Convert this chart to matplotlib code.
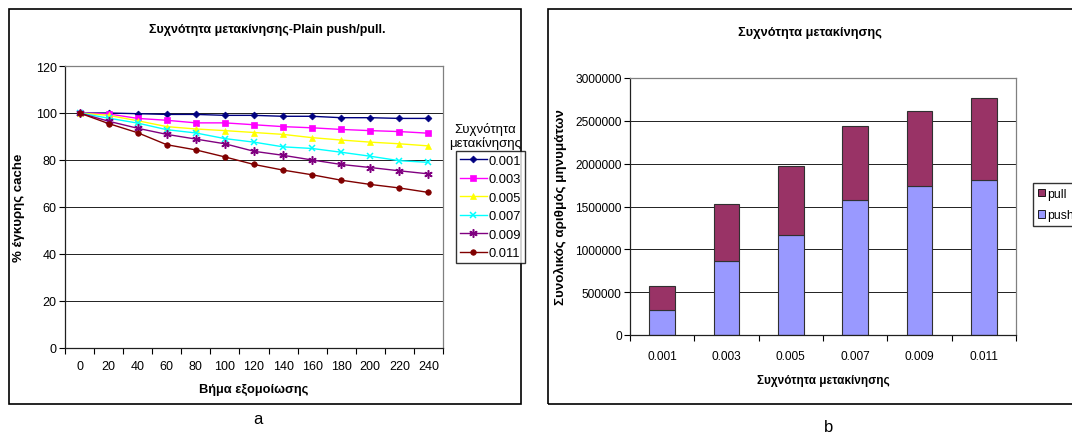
import numpy as np
import matplotlib.pyplot as plt
from matplotlib.patches import Rectangle, Patch

plt.rcParams['font.family'] = ['Liberation Sans', 'DejaVu Sans']

# left chart: % valid cache per simulation step for each migration frequency
steps = [0, 20, 40, 60, 80, 100, 120, 140, 160, 180, 200, 220, 240]
freq_labels = ['0.001', '0.003', '0.005', '0.007', '0.009', '0.011']
valid_001 = [100, 100, 99.7, 99.4, 99.4, 99.0, 99.0, 98.6, 98.6, 98.0, 98.0, 97.7, 97.7]
valid_003 = [100, 99.6, 97.7, 96.9, 95.8, 95.8, 95.0, 94.2, 93.7, 93.0, 92.5, 92.1, 91.4]
valid_005 = [100, 99.0, 96.7, 94.2, 93.2, 92.5, 91.7, 90.9, 89.5, 88.5, 87.6, 86.9, 86.0]
valid_007 = [100, 97.8, 95.7, 92.9, 91.5, 89.1, 87.6, 85.6, 84.9, 83.3, 81.6, 79.7, 79.0]
valid_009 = [100, 96.5, 93.5, 90.9, 88.9, 86.9, 83.7, 82.0, 80.0, 78.1, 76.8, 75.4, 74.1]
valid_011 = [100, 95.5, 91.6, 86.5, 84.3, 81.3, 78.1, 75.7, 73.7, 71.4, 69.6, 68.1, 66.2]

# right chart: total messages (push + pull) per migration frequency
push_msgs = [291000, 859000, 1170000, 1578000, 1737000, 1811000]
pull_msgs = [276000, 672000, 797000, 867000, 883000, 952000]

fig = plt.figure(figsize=(10.72, 4.35), dpi=100)
W, H = 1072.0, 435.0

def box(x0, y0, x1, y1):
    return [x0 / W, 1 - y1 / H, (x1 - x0) / W, (y1 - y0) / H]

def ftext(x, y, s, **kw):
    return fig.text(x / W, 1 - y / H, s, ha='center', va='center', **kw)

# panel frames
fig.patches.append(Rectangle((9 / W, 1 - 405 / H), 512 / W, 395 / H, transform=fig.transFigure,
                             fill=False, ec='black', lw=1.2))
fig.patches.append(Rectangle((548 / W, 1 - 405 / H), 540 / W, 395 / H, transform=fig.transFigure,
                             fill=False, ec='black', lw=1.2))

def style_axes(ax, tsize, xpad):
    for s in ['top', 'right']:
        ax.spines[s].set_color('#808080')
    for s in ['left', 'bottom']:
        ax.spines[s].set_color('#202020')
    for s in ax.spines.values():
        s.set_linewidth(0.9)
    ax.grid(axis='y', color='#202020', lw=0.7)
    ax.set_axisbelow(True)
    ax.tick_params(axis='y', direction='out', length=4, width=0.8, labelsize=tsize, pad=2)
    ax.tick_params(axis='x', which='major', length=0, labelsize=tsize, pad=xpad)
    ax.tick_params(axis='x', which='minor', direction='out', length=4, width=0.8)

# ---- a ----
ax1 = fig.add_axes(box(65, 67, 443, 349))
series = [valid_001, valid_003, valid_005, valid_007, valid_009, valid_011]
colors = ['#000080', '#FF00FF', '#FFFF00', '#00FFFF', '#800080', '#800000']
markers = ['D', 's', '^', 'x', (6, 2, 0), 'o']
msizes = [3.5, 4, 4.5, 5, 6, 4]
handles = []
for vals, c, m, ms, lab in zip(series, colors, markers, msizes, freq_labels):
    h, = ax1.plot(steps, vals, color=c, marker=m, markersize=ms, lw=1,
                  markeredgewidth=1.1 if m in ('x', (6, 2, 0)) else 0.5, label=lab)
    handles.append(h)
ax1.set_xlim(-10, 250)
ax1.set_ylim(0, 120)
ax1.set_yticks(range(0, 121, 20))
ax1.set_xticks(steps)
ax1.set_xticks(np.arange(-10, 251, 20), minor=True)
style_axes(ax1, 9, 9)
ax1.set_ylabel('% έγκυρης cache', fontsize=9.5, fontweight='bold', labelpad=8)
ftext(267, 30, 'Συχνότητα μετακίνησης-Plain push/pull.', fontsize=9, fontweight='bold')
ftext(254, 390, 'Βήμα εξομοίωσης', fontsize=9.3, fontweight='bold')

ftext(485, 136, 'Συχνότητα\nμετακίνησης', fontsize=9.5, linespacing=1.1)
leg1 = fig.legend(handles=handles, loc='upper left', bbox_to_anchor=(456 / W, 1 - 152 / H),
                  fontsize=9.3, frameon=True, fancybox=False, edgecolor='black',
                  handlelength=2.1, handletextpad=0.1, labelspacing=0.5, borderpad=0.3,
                  borderaxespad=0)
leg1.get_frame().set_linewidth(1.0)

# ---- b ----
ax2 = fig.add_axes(box(630, 79, 1016, 336))
xpos = np.arange(len(freq_labels))
ax2.bar(xpos, push_msgs, width=0.4, color='#9999FF', edgecolor='#303030', lw=0.8)
ax2.bar(xpos, pull_msgs, width=0.4, bottom=push_msgs, color='#993366', edgecolor='#303030', lw=0.8)
ax2.set_xlim(-0.5, 5.5)
ax2.set_ylim(0, 3000000)
ax2.set_yticks(range(0, 3000001, 500000))
ax2.set_yticklabels([str(v) for v in range(0, 3000001, 500000)])
ax2.set_xticks(xpos)
ax2.set_xticklabels(freq_labels)
ax2.set_xticks(np.arange(-0.5, 5.6, 1), minor=True)
style_axes(ax2, 8.6, 11)
ax2.set_ylabel('Συνολικός αριθμός μηνυμάτων', fontsize=9.6, fontweight='bold', labelpad=6)
ftext(810, 33, 'Συχνότητα μετακίνησης', fontsize=9.3, fontweight='bold')
ftext(823, 381, 'Συχνότητα μετακίνησης', fontsize=8.5, fontweight='bold')

leg2 = fig.legend(handles=[Patch(fc='#993366', ec='black', lw=0.6, label='pull'),
                           Patch(fc='#9999FF', ec='black', lw=0.6, label='push')],
                  loc='upper left', bbox_to_anchor=(1033 / W, 1 - 184 / H), fontsize=8.8,
                  frameon=True, fancybox=False, edgecolor='black', handlelength=0.6,
                  handleheight=0.6, handletextpad=0.15, labelspacing=0.75, borderpad=0.4,
                  borderaxespad=0)
leg2.get_frame().set_linewidth(1.0)

ftext(258, 420, 'a', fontsize=12)
ftext(829, 428, 'b', fontsize=12)

fig.savefig('out.png', dpi=100)
